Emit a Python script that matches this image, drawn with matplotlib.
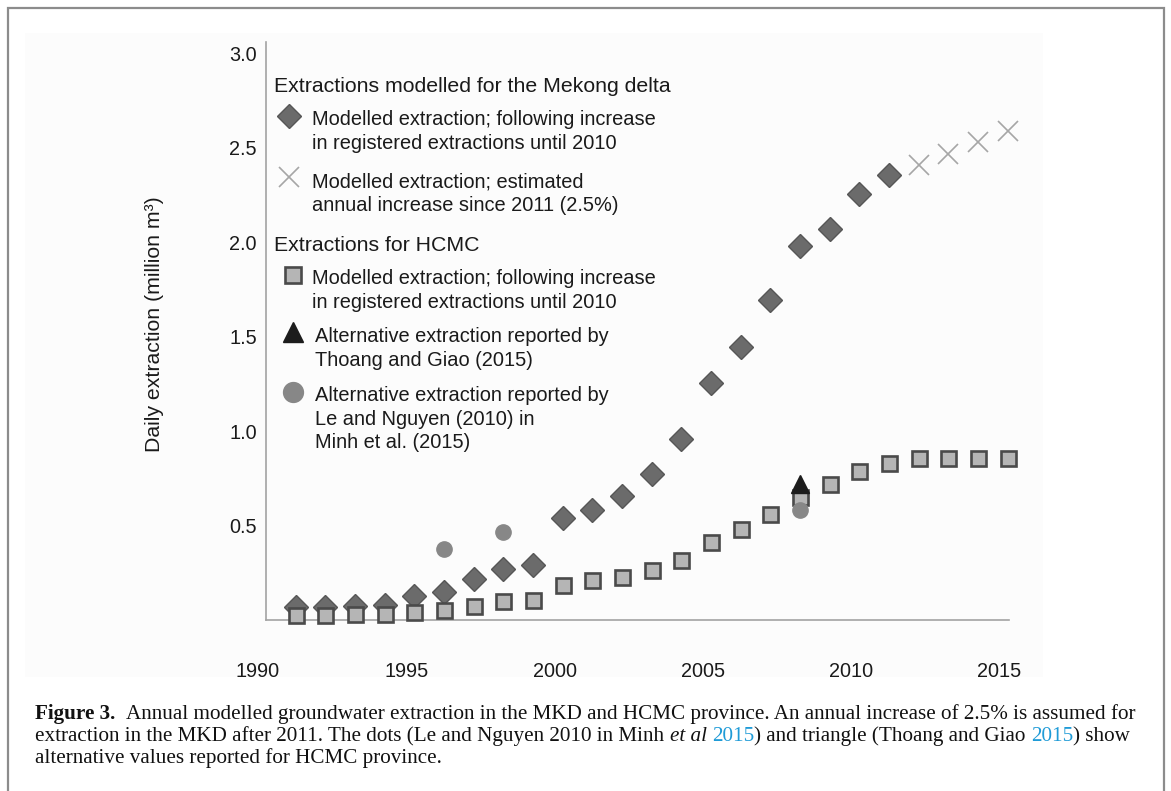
import matplotlib
matplotlib.use('Agg')
import matplotlib.pyplot as plt
from matplotlib.lines import Line2D
from matplotlib.patches import Rectangle
from matplotlib.text import Annotation
from matplotlib.transforms import ScaledTranslation

# data (million m3 per day)
mekong_years = list(range(1991, 2012))
mekong = [0.07, 0.07, 0.075, 0.08, 0.125, 0.15, 0.215, 0.27, 0.29, 0.54,
          0.58, 0.656, 0.772, 0.958, 1.254, 1.444, 1.693, 1.979, 2.069, 2.254,
          2.354]
mekong_est_years = [2012, 2013, 2014, 2015]
mekong_est = [2.407, 2.466, 2.529, 2.587]
hcmc_years = list(range(1991, 2016))
hcmc = [0.026, 0.026, 0.03, 0.03, 0.045, 0.053, 0.073, 0.1, 0.107, 0.186,
        0.21, 0.226, 0.263, 0.32, 0.415, 0.48, 0.56, 0.65, 0.72, 0.79,
        0.83, 0.86, 0.86, 0.86, 0.86]
thoang_years = [2008]
thoang = [0.72]
le_years = [1996, 1998, 2008]
le = [0.376, 0.466, 0.582]

x_ticks = [1990, 1995, 2000, 2005, 2010, 2015]
y_ticks = [0.5, 1.0, 1.5, 2.0, 2.5, 3.0]

W, H = 1171, 791
SANS = 'Liberation Sans'
SERIF = 'Liberation Serif'

sty_diamond = dict(marker='D', ms=12, mfc='#6b6b6b', mec='#565656', mew=1.0, ls='none')
sty_cross = dict(marker='x', ms=14, mec='#a6a6a6', mew=1.2, ls='none')
sty_square = dict(marker='s', ms=10.8, mfc='#b5b5b5', mec='#4a4a4a', mew=1.9, ls='none')
sty_tri = dict(marker='^', ms=13.5, mfc='#1c1c1c', mec='#1c1c1c', ls='none')
sty_circle = dict(marker='o', ms=11, mfc='#878787', mec='#878787', ls='none')


def fx(x):
    return x / W


def fy(y):
    return 1 - y / H


fig = plt.figure(figsize=(W / 100, H / 100), dpi=100)

# outer frame and faint panel
fig.patches.append(Rectangle((fx(8), fy(810)), fx(1164) - fx(8), fy(8) - fy(810),
                             transform=fig.transFigure, fill=False,
                             ec='#8c8c8c', lw=1.6, clip_on=False, zorder=-2))
fig.patches.append(Rectangle((fx(25), fy(677)), fx(1043) - fx(25), fy(33) - fy(677),
                             transform=fig.transFigure, fc='#fcfcfc', ec='none',
                             zorder=-3))

ax = fig.add_axes([fx(266), fy(620), fx(1009) - fx(266), fy(42) - fy(620)])
ax.set_facecolor('none')

ax.plot(mekong_years, mekong, zorder=3, clip_on=False, **sty_diamond)
ax.plot(mekong_est_years, mekong_est, zorder=3, clip_on=False, **sty_cross)
ax.plot(hcmc_years, hcmc, zorder=4, clip_on=False, **sty_square)
ax.plot(le_years, le, zorder=5, clip_on=False, **sty_circle)
ax.plot(thoang_years, thoang, zorder=6, clip_on=False, **sty_tri)

ax.set_xlim(1990, 2015.05)
ax.set_ylim(0, 3.06)
ax.set_xticks(x_ticks)
ax.set_yticks(y_ticks)
ax.set_xticklabels([str(t) for t in x_ticks], fontfamily=SANS, fontsize=14.3, color='#1a1a1a')
ax.set_yticklabels(['%.1f' % t for t in y_ticks], fontfamily=SANS, fontsize=14.3, color='#1a1a1a')
ax.tick_params(axis='both', length=0)
ax.tick_params(axis='x', pad=30)
ax.tick_params(axis='y', pad=6.5)
shift = ScaledTranslation(-8 / 100, 0, fig.dpi_scale_trans)
for lab in ax.get_xticklabels():
    lab.set_transform(lab.get_transform() + shift)

for side in ['top', 'right']:
    ax.spines[side].set_visible(False)
for side in ['left', 'bottom']:
    ax.spines[side].set_color('#a3a3a3')
    ax.spines[side].set_linewidth(1.2)

fig.text(fx(155), fy(324), 'Daily extraction (million m³)', rotation=90,
         ha='center', va='center', fontfamily=SANS, fontsize=15.3, color='#1a1a1a')


# legend, drawn by hand
def leg_text(x, y, s, size=14.4):
    fig.text(fx(x), fy(y), s, ha='left', va='baseline', fontfamily=SANS,
             fontsize=size, color='#1a1a1a')


def leg_mark(x, y, sty, grow=1.0):
    sty = dict(sty)
    sty['ms'] = sty['ms'] * grow
    fig.add_artist(Line2D([fx(x)], [fy(y)], transform=fig.transFigure, **sty))


leg_text(274, 92, 'Extractions modelled for the Mekong delta', 15.3)
leg_mark(289, 116, sty_diamond)
leg_text(312, 125, 'Modelled extraction; following increase')
leg_text(312, 149, 'in registered extractions until 2010')
leg_mark(289, 177, sty_cross)
leg_text(312, 188, 'Modelled extraction; estimated')
leg_text(312, 211, 'annual increase since 2011 (2.5%)')
leg_text(274, 251, 'Extractions for HCMC', 15.3)
leg_mark(293, 275, sty_square, 1.08)
leg_text(312, 284, 'Modelled extraction; following increase')
leg_text(312, 308, 'in registered extractions until 2010')
leg_mark(293, 332, sty_tri, 1.05)
leg_text(315, 342, 'Alternative extraction reported by')
leg_text(315, 366, 'Thoang and Giao (2015)')
leg_mark(293, 392, sty_circle, 1.3)
leg_text(315, 401, 'Alternative extraction reported by')
leg_text(315, 425, 'Le and Nguyen (2010) in')
leg_text(315, 448, 'Minh et al. (2015)')

# caption with mixed styles
CAP = 15.2
BLUE = '#1f9bd7'


def caption_line(y, pieces):
    first = pieces[0]
    prev = fig.text(fx(35), fy(y) - 4.5 / H, first[0], ha='left', va='bottom',
                    fontfamily=SERIF, fontsize=CAP, color=first[2],
                    fontweight='bold' if first[1] == 'bold' else 'normal')
    for s, style, col, gap in pieces[1:]:
        a = Annotation(s, xy=(1, 0), xycoords=prev, xytext=(gap, 0),
                       textcoords='offset points', ha='left', va='bottom',
                       fontfamily=SERIF, fontsize=CAP, color=col,
                       fontweight='bold' if style == 'bold' else 'normal',
                       fontstyle='italic' if style == 'italic' else 'normal')
        fig.add_artist(a)
        prev = a


SP = 3.9
INK = '#111111'
caption_line(720, [('Figure 3.', 'bold', INK, 0),
                   ('Annual modelled groundwater extraction in the MKD and HCMC province. '
                    'An annual increase of 2.5% is assumed for', 'normal', INK, 2 * SP)])
caption_line(741.5, [('extraction in the MKD after 2011. The dots (Le and Nguyen 2010 in Minh',
                      'normal', INK, 0),
                     ('et al', 'italic', INK, SP),
                     ('2015', 'normal', BLUE, SP),
                     (') and triangle (Thoang and Giao', 'normal', INK, 0),
                     ('2015', 'normal', BLUE, SP),
                     (') show', 'normal', INK, 0)])
caption_line(763, [('alternative values reported for HCMC province.', 'normal', INK, 0)])

fig.savefig('out.png', dpi=100, facecolor='white')
